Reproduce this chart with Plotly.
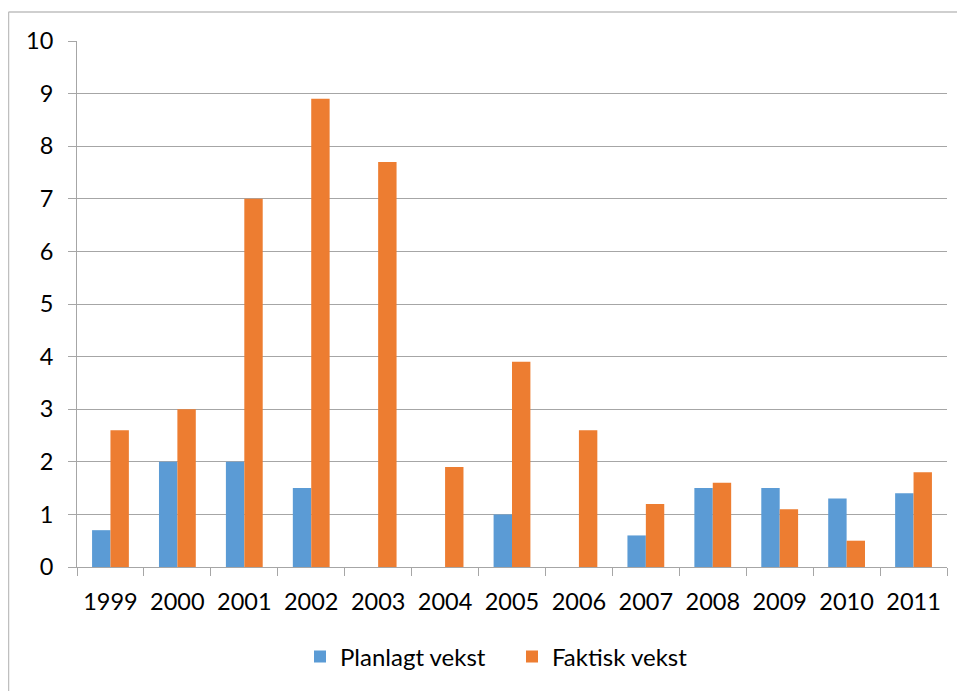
import plotly.graph_objects as go

years = ["1999", "2000", "2001", "2002", "2003", "2004", "2005", "2006", "2007", "2008", "2009", "2010", "2011"]
planlagt = [0.7, 2.0, 2.0, 1.5, 0, 0, 1.0, 0, 0.6, 1.5, 1.5, 1.3, 1.4]
faktisk = [2.6, 3.0, 7.0, 8.9, 7.7, 1.9, 3.9, 2.6, 1.2, 1.6, 1.1, 0.5, 1.8]

# page body has an 8px default margin
W, H = 957, 683
L, T = 69, 33
pw, ph = 870, 526
R, B = W - L - pw, H - T - ph

fig = go.Figure()
fig.add_trace(go.Bar(x=years, y=planlagt, name="Planlagt vekst", marker_color="#5B9BD5", marker_line_width=0))
fig.add_trace(go.Bar(x=years, y=faktisk, name="Faktisk vekst", marker_color="#ED7D31", marker_line_width=0))

font = dict(family="Lato, Open Sans, sans-serif", size=23.5, color="#000000")

fig.update_layout(
    width=W, height=H,
    margin=dict(l=L, r=R, t=T, b=B, autoexpand=False),
    paper_bgcolor="white", plot_bgcolor="white",
    barmode="group", bargap=0.45, bargroupgap=0,
    font=font,
    showlegend=True,
    legend=dict(orientation="h", x=(300 - 77) / pw, xanchor="left", y=-(657 - 567) / ph, yanchor="middle",
                font=dict(family="Lato, Open Sans, sans-serif", size=24), itemwidth=30,
                entrywidth=167, entrywidthmode="pixels", traceorder="normal"),
    xaxis=dict(type="category", showgrid=False, showline=True, linecolor="#A6A6A6", linewidth=1,
               ticks="outside", tickson="boundaries", ticklen=8, tickcolor="#A6A6A6",
               ticklabelstandoff=14, tickfont=font),
    yaxis=dict(range=[0, 10], dtick=1, showgrid=True, gridcolor="#A6A6A6", gridwidth=1,
               showline=True, linecolor="#A6A6A6", linewidth=1, zeroline=False,
               ticks="outside", ticklen=8, tickcolor="#A6A6A6", ticklabelstandoff=10, tickfont=font),
)

# outer chart frame (top and left edges)
x0 = (0.5 - L) / pw
y0 = 1 + (T - 4) / ph
fig.add_shape(type="line", xref="paper", yref="paper", x0=x0, y0=y0, x1=(W - L) / pw, y1=y0,
              line=dict(color="#BFBFBF", width=1.5))
fig.add_shape(type="line", xref="paper", yref="paper", x0=x0, y0=y0, x1=x0, y1=-(H - T - ph) / ph,
              line=dict(color="#BFBFBF", width=1.5))

fig.write_html("out.html")
